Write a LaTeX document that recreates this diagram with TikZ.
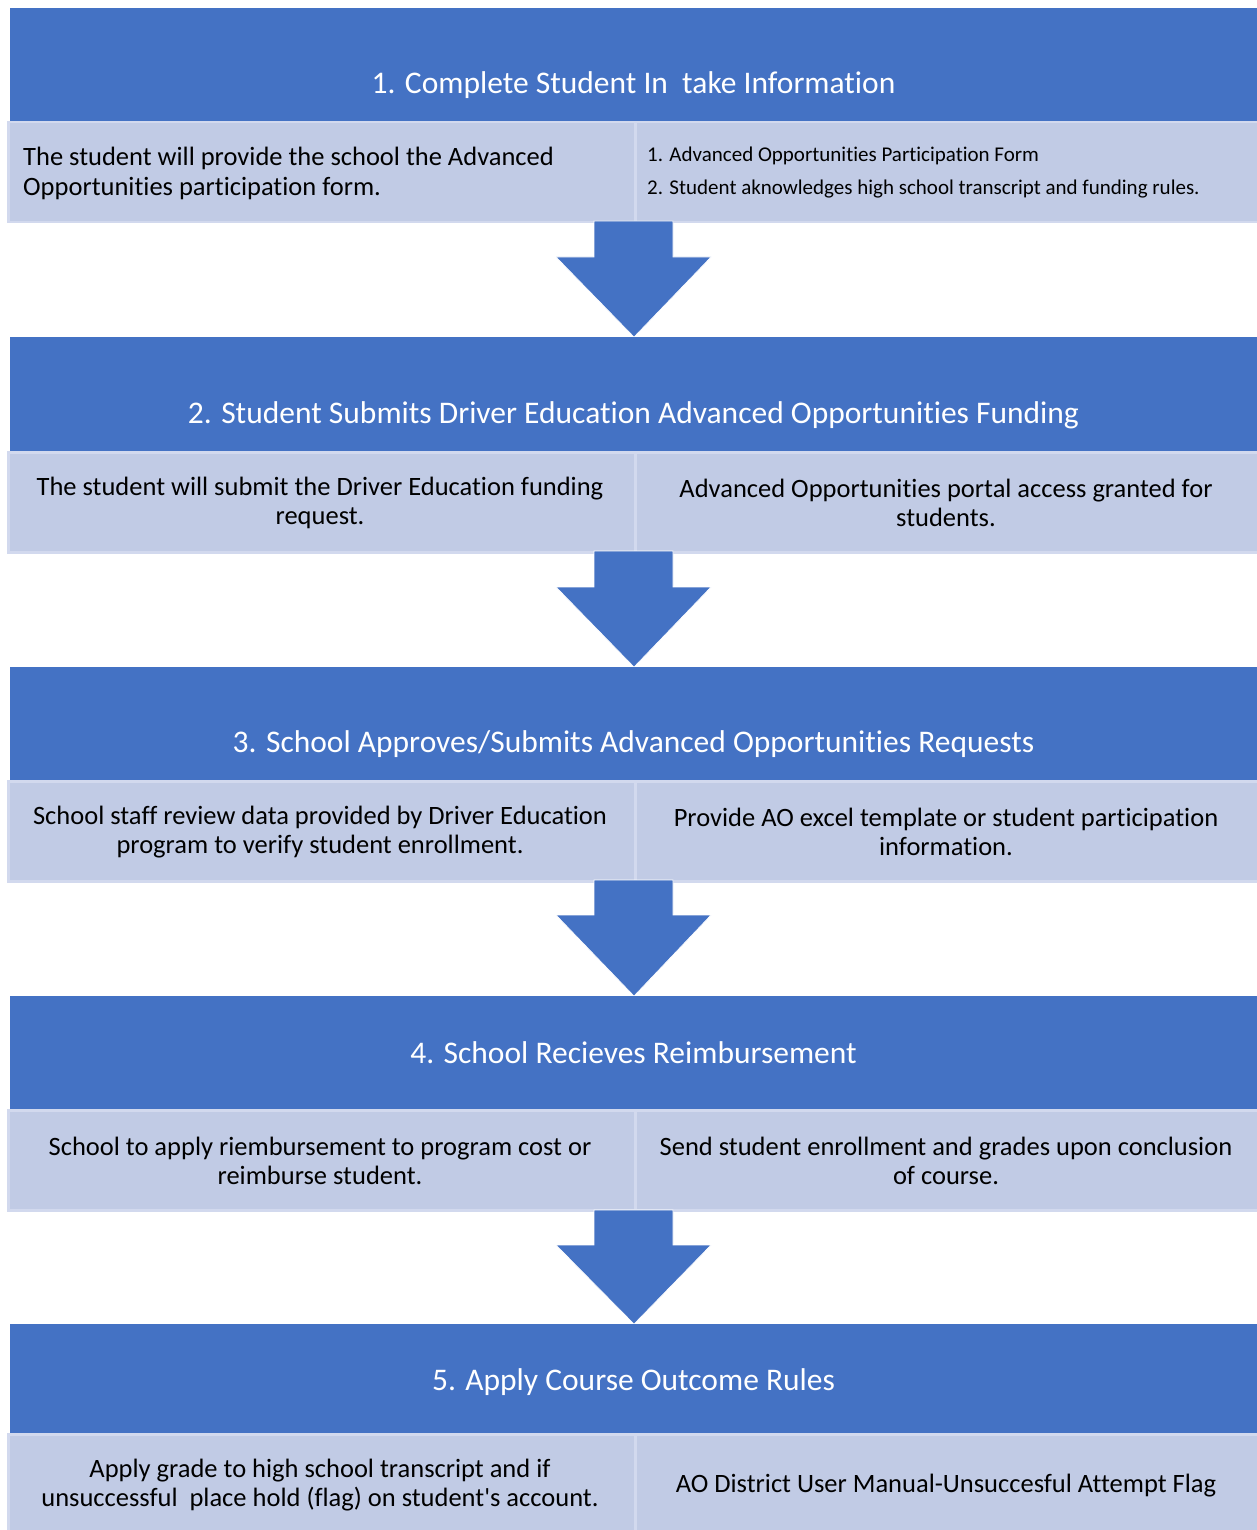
\documentclass[tikz,border=0pt]{standalone}
\usepackage{fontspec}
\setmainfont{Carlito}[Ligatures={NoCommon}]
\usetikzlibrary{calc}
\definecolor{hdrblue}{HTML}{4472C4}
\definecolor{boxfill}{HTML}{C1CBE5}
\definecolor{boxline}{HTML}{D2D9EE}
\tikzset{
  hdr/.style={fill=hdrblue, draw=none, anchor=north west, inner sep=0pt, minimum width=1247pt},
  hdrtext/.style={text=white, inner sep=0pt, font=\fontsize{31.5}{36}\selectfont},
  infobox/.style={fill=boxfill, draw=boxline, line width=2.5pt, anchor=north west, inner sep=0pt, minimum height=100pt},
  body/.style={text=black, inner sep=0pt, align=center, font=\fontsize{26.5}{29.5}\selectfont},
  smallbody/.style={text=black, inner sep=0pt, align=left, font=\fontsize{21}{33}\selectfont},
  blockarrow/.style={fill=hdrblue, draw=white, line width=0.6pt}
}
\newcommand{\flowarrow}[4]{% name, top y, neck y, tip y
  \coordinate (#1top) at (634,#2);
  \coordinate (#1tip) at (634,#4);
  \path[blockarrow] (594,#2) -- (673,#2) -- (673,#3) -- (711,#3) -- (#1tip) -- (556,#3) -- (594,#3) -- cycle;
}
\begin{document}
\begin{tikzpicture}[x=1pt,y=-1pt]
\useasboundingbox (0,0) rectangle (1257,1530);
\fill[white] (0,0) rectangle (1257,1530);

% ---------- Row 1 ----------
\node[hdr, minimum height=113pt] (h1) at (10,8) {};
\node[hdrtext] (h1t) at (633.5,85) {1. Complete Student In\ \ take Information};
\node[infobox, minimum width=627pt] (l1) at (7,121) {};
\node[infobox, minimum width=625pt] (r1) at (634,121) {};
\node[body, align=left, anchor=west] (l1t) at (23,173.5) {The student will provide the school the Advanced\\Opportunities participation form.};
\node[smallbody, anchor=west] (r1t) at (647,173) {1. Advanced Opportunities Participation Form\\2. Student aknowledges high school transcript and funding rules.};
\flowarrow{a1}{221}{257}{337}

% ---------- Row 2 ----------
\node[hdr, minimum height=114pt] (h2) at (10,337) {};
\node[hdrtext] (h2t) at (633.5,415) {2. Student Submits Driver Education Advanced Opportunities Funding};
\node[infobox, minimum width=627pt] (l2) at (7,451) {};
\node[infobox, minimum width=625pt] (r2) at (634,451) {};
\node[body] (l2t) at (320,503) {The student will submit the Driver Education funding\\request.};
\node[body] (r2t) at (946,503) {Advanced Opportunities portal access granted for\\students.};
\flowarrow{a2}{551}{587}{667}

% ---------- Row 3 ----------
\node[hdr, minimum height=113pt] (h3) at (10,667) {};
\node[hdrtext] (h3t) at (633.5,744) {3. School Approves/Submits Advanced Opportunities Requests};
\node[infobox, minimum width=627pt] (l3) at (7,780) {};
\node[infobox, minimum width=625pt] (r3) at (634,780) {};
\node[body] (l3t) at (320,832) {School staff review data provided by Driver Education\\program to verify student enrollment.};
\node[body] (r3t) at (946,832) {Provide AO excel template or student participation\\information.};
\flowarrow{a3}{880}{915}{996}

% ---------- Row 4 ----------
\node[hdr, minimum height=113pt] (h4) at (10,996) {};
\node[hdrtext] (h4t) at (633.5,1053) {4. School Recieves Reimbursement};
\node[infobox, minimum width=627pt] (l4) at (7,1109) {};
\node[infobox, minimum width=625pt] (r4) at (634,1109) {};
\node[body] (l4t) at (320,1161) {School to apply riembursement to program cost or\\reimburse student.};
\node[body] (r4t) at (946,1161) {Send student enrollment and grades upon conclusion\\of course.};
\flowarrow{a4}{1210}{1245}{1324}

% ---------- Row 5 ----------
\node[hdr, minimum height=109pt] (h5) at (10,1324) {};
\node[hdrtext] (h5t) at (633.5,1382) {5. Apply Course Outcome Rules};
\node[infobox, minimum width=627pt] (l5) at (7,1433) {};
\node[infobox, minimum width=625pt] (r5) at (634,1433) {};
\node[body] (l5t) at (320,1485) {Apply grade to high school transcript and if\\unsuccessful\ \ place hold (flag) on student\textquotesingle s account.};
\node[body] (r5t) at (946,1485.5) {AO District User Manual-Unsuccesful Attempt Flag};
\end{tikzpicture}
\end{document}
